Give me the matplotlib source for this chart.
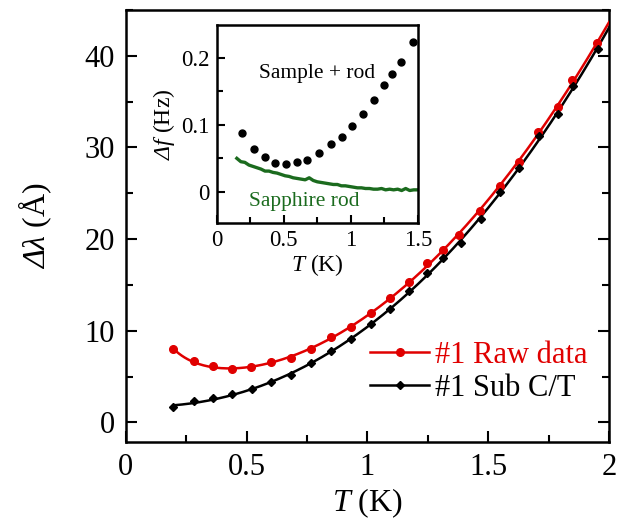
import numpy as np
import matplotlib
matplotlib.use("Agg")
import matplotlib.pyplot as plt
from matplotlib.ticker import MultipleLocator

plt.rcParams['font.family'] = ['Liberation Serif', 'DejaVu Serif']
plt.rcParams['mathtext.fontset'] = 'custom'
plt.rcParams['mathtext.rm'] = 'Liberation Serif:italic'
plt.rcParams['mathtext.it'] = 'Liberation Serif:italic'

# ---- main panel data ----
T_raw = [0.196, 0.283, 0.361, 0.440, 0.518, 0.601, 0.684, 0.767, 0.850, 0.932,
         1.015, 1.094, 1.172, 1.248, 1.312, 1.380, 1.466, 1.549, 1.629, 1.707,
         1.788, 1.848, 1.952]
dl_raw = [8.01, 6.70, 6.15, 5.79, 6.01, 6.56, 7.03, 8.01, 9.32, 10.42,
          11.95, 13.58, 15.33, 17.44, 18.83, 20.47, 23.02, 25.83, 28.42, 31.67,
          34.43, 37.38, 41.42]
T_sub = [0.197, 0.283, 0.362, 0.441, 0.523, 0.601, 0.683, 0.767, 0.851, 0.934,
         1.014, 1.095, 1.174, 1.248, 1.314, 1.386, 1.470, 1.549, 1.629, 1.710,
         1.790, 1.850, 1.953]
dl_sub = [1.64, 2.30, 2.66, 3.06, 3.64, 4.40, 5.14, 6.45, 7.83, 9.07,
          10.71, 12.35, 14.35, 16.35, 17.99, 19.56, 22.19, 25.09, 27.76, 31.21,
          33.69, 36.68, 40.77]

# ---- inset data ----
T_samp = [0.191, 0.278, 0.360, 0.437, 0.517, 0.600, 0.676, 0.766, 0.851, 0.933,
          1.012, 1.092, 1.172, 1.249, 1.310, 1.378, 1.463]
df_samp = [0.088, 0.064, 0.052, 0.043, 0.041, 0.044, 0.047, 0.058, 0.071, 0.082,
           0.098, 0.116, 0.137, 0.159, 0.176, 0.194, 0.223]
T_rod = [0.15, 0.18, 0.21, 0.24, 0.27, 0.30, 0.33, 0.36, 0.39, 0.42, 0.45, 0.48,
         0.51, 0.54, 0.57, 0.60, 0.63, 0.66, 0.69, 0.72, 0.75, 0.78, 0.81, 0.84,
         0.87, 0.90, 0.93, 0.96, 0.99, 1.02, 1.05, 1.08, 1.11, 1.14, 1.17, 1.20,
         1.23, 1.26, 1.29, 1.32, 1.35, 1.38, 1.41, 1.44, 1.47, 1.50]
df_rod = [0.050, 0.045, 0.044, 0.040, 0.038, 0.036, 0.034, 0.031, 0.031, 0.029,
          0.028, 0.026, 0.024, 0.023, 0.021, 0.020, 0.019, 0.018, 0.021, 0.017,
          0.015, 0.014, 0.013, 0.012, 0.011, 0.011, 0.009, 0.009, 0.008, 0.007,
          0.006, 0.006, 0.005, 0.005, 0.004, 0.004, 0.005, 0.003, 0.004, 0.003,
          0.004, 0.002, 0.005, 0.002, 0.003, 0.003]

RED = '#e00000'
GREEN = '#1b6b1e'

fig = plt.figure(figsize=(6.21, 5.21), dpi=100)
ax = fig.add_axes([0.2024, 0.1522, 0.7783, 0.8286])

def fitline(T, y, curie=False):
    T = np.asarray(T); y = np.asarray(y)
    def basis(t):
        cols = [np.ones_like(t), t, t**2, t**3]
        if curie:
            cols.append(1.0 / t)
        return np.vstack(cols).T
    c, *_ = np.linalg.lstsq(basis(T), y, rcond=None)
    xs = np.linspace(T[0], 2.0, 300)
    return xs, basis(xs) @ c

xr, yr = fitline(T_raw, dl_raw, curie=True)
xs_, ys_ = fitline(T_sub, dl_sub)
ax.plot(xr, yr, color=RED, lw=1.8, zorder=3)
ax.plot(xs_, ys_, color='black', lw=1.8, zorder=3)
ax.plot(T_raw, dl_raw, 'o', color=RED, ms=5.5, zorder=4)
ax.plot(T_sub, dl_sub, 'D', color='black', ms=4, zorder=4)

# legend proxies
ax.plot([], [], '-o', color=RED, lw=1.8, ms=5.5, label='#1 Raw data')
ax.plot([], [], '-D', color='black', lw=1.8, ms=4, label='#1 Sub C/T')
leg = ax.legend(loc='center left', bbox_to_anchor=(0.505, 0.162), frameon=False,
                fontsize=22, handlelength=1.95, handletextpad=0.2, labelspacing=0.12,
                borderpad=0, borderaxespad=0, labelcolor='linecolor')

ax.set_xlim(0, 2)
ax.set_ylim(-2.1, 45.0)
ax.xaxis.set_major_locator(MultipleLocator(0.5))
ax.xaxis.set_minor_locator(MultipleLocator(0.25))
ax.yaxis.set_major_locator(MultipleLocator(10))
ax.yaxis.set_minor_locator(MultipleLocator(5))
ax.set_xticks([0, 0.5, 1, 1.5, 2])
ax.set_xticklabels(['0', '0.5', '1', '1.5', '2'])
ax.tick_params(which='both', direction='in', left=True, right=True, top=False,
               bottom=True, labelsize=22, width=1.5)
ax.tick_params(which='major', length=8, pad=8)
ax.tick_params(which='minor', length=5)
for s in ax.spines.values():
    s.set_linewidth(1.8)
ax.set_xlabel(r'$T$ (K)', fontsize=23, labelpad=3)
ax.set_ylabel(r'$Δλ$ (Å)', fontsize=23, labelpad=22)

# ---- inset ----
axi = fig.add_axes([0.349, 0.5726, 0.3237, 0.3794])
axi.plot(T_rod, df_rod, '-', color=GREEN, lw=2.4)
axi.plot(T_samp, df_samp, 'o', color='black', ms=5)
axi.set_xlim(0, 1.5)
axi.set_ylim(-0.046, 0.249)
axi.xaxis.set_major_locator(MultipleLocator(0.5))
axi.xaxis.set_minor_locator(MultipleLocator(0.25))
axi.yaxis.set_major_locator(MultipleLocator(0.1))
axi.yaxis.set_minor_locator(MultipleLocator(0.05))
axi.set_xticks([0, 0.5, 1, 1.5])
axi.set_xticklabels(['0', '0.5', '1', '1.5'])
axi.set_yticks([0, 0.1, 0.2])
axi.set_yticklabels(['0', '0.1', '0.2'])
axi.tick_params(which='both', direction='in', left=True, right=False, top=False,
                bottom=True, labelsize=16.5, width=1.5)
axi.tick_params(which='major', length=6, pad=5)
axi.tick_params(which='minor', length=4)
for s in axi.spines.values():
    s.set_linewidth(1.8)
axi.set_xlabel(r'$T$ (K)', fontsize=17, labelpad=1)
axi.set_ylabel(r'$Δf$ (Hz)', fontsize=17, labelpad=3)
axi.text(0.746, 0.177, 'Sample + rod', fontsize=15.5, ha='center', va='center')
axi.text(0.652, -0.015, 'Sapphire rod', fontsize=15.5, ha='center', va='center',
         color=GREEN)

fig.savefig('out.png', dpi=100)
